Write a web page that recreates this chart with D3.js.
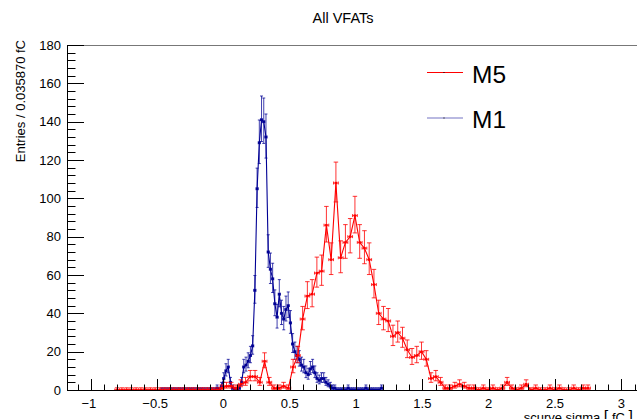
<!DOCTYPE html>
<html>
<head>
<meta charset="utf-8">
<script src="https://cdn.jsdelivr.net/npm/d3@7"></script>
<style>
  html, body { margin: 0; padding: 0; background: #fff; }
  svg { display: block; }
  text { font-family: "Liberation Sans", Arial, Helvetica, sans-serif; }
</style>
</head>
<body>
<svg id="chart" width="637" height="419"></svg>
<script>
// ---- data ----
const chartTitle = "All VFATs";
const yAxisTitle = "Entries / 0.035870 fC";
const xAxisTitle = "scurve sigma";
const xTickValues = [-1, -0.5, 0, 0.5, 1, 1.5, 2, 2.5, 3];
const xTickLabels = ["\u22121", "\u22120.5", "0", "0.5", "1", "1.5", "2", "2.5", "3"];
const yTickValues = [0, 20, 40, 60, 80, 100, 120, 140, 160, 180];
const seriesNames = ["M5", "M1"];

// M5 histogram: first bin low edge and bin width (fC)
const m5BinStart = -0.82;
const m5BinWidth = 0.03587;
const m5Counts = [
  0,0,0,0,0,0,0,0,0,0,
  0,0,0,0,0,0,0,0,0,0,
  0,0,1,2,2,1,3,4,7,7,
  4,15,4,1,1,2,1,12,18,37,
  49,50,61,62,86,68,108,69,77,80,
  91,77,74,68,55,40,37,36,28,30,
  27,21,17,18,20,16,6,7,4,1,
  1,2,3,2,1,1,0,1,0,1,
  0,1,4,1,0,1,3,0,1,0,
  0,1,0,1,0,0,1,0,1,1
];

// M1 histogram
const m1BinStart = -0.475;
const m1BinWidth = 0.01675;
const m1Counts = [
  0,0,0,0,0,0,0,0,0,0,
  0,0,0,0,0,0,0,0,0,0,
  0,0,0,0,0,1,0,2,6,10,
  12,4,1,0,0,1,4,12,13,15,
  18,23,52,105,129,141,140,132,72,63,
  58,45,38,50,40,37,42,44,35,24,
  20,18,16,13,12,9,8,11,12,9,
  6,5,6,6,4,3,2,1,1,0,
  0,0,0,0,1,0,0,0,0,0,
  0,0,1,0,0,0,0,0,0,1
];

// ---- layout ----
const svg = d3.select("#chart");
const plotLeft = 67, plotTop = 45, plotBottom = 390;
const x = d3.scaleLinear().domain([-1.18, 3.3]).range([plotLeft, plotLeft + 4.48 * 132.6]);
const y = d3.scaleLinear().domain([0, 180]).range([plotBottom, plotTop]);

function interval(n) {
  if (n <= 0) return [0, 1.15];
  const s = Math.sqrt(n + 0.25);
  return [Math.max(0, n + 0.5 - s), n + 0.5 + s];
}

function buildBins(start, width, counts) {
  return counts.map((c, i) => {
    const lo = start + i * width;
    const [el, eh] = interval(c);
    return { x0: lo, x1: lo + width, xc: lo + width / 2, n: c, el, eh };
  });
}

const m5 = buildBins(m5BinStart, m5BinWidth, m5Counts);
const m1 = buildBins(m1BinStart, m1BinWidth, m1Counts);

const clipId = "plotclip";
svg.append("clipPath").attr("id", clipId)
  .append("rect").attr("x", plotLeft).attr("y", plotTop - 2).attr("width", 637 - plotLeft).attr("height", plotBottom - plotTop + 3);

svg.append("line").attr("x1", plotLeft).attr("x2", 637).attr("y1", plotTop + 0.5).attr("y2", plotTop + 0.5)
  .attr("stroke", "#777").attr("stroke-width", 1.2);

function drawSeries(bins, color, capW, opacityBars) {
  const g = svg.append("g").attr("clip-path", `url(#${clipId})`);
  const line = d3.line().x(d => x(d.xc)).y(d => y(d.n));
  g.append("path").datum(bins).attr("d", line)
    .attr("fill", "none").attr("stroke", color).attr("stroke-width", 1.1);
  const pts = g.selectAll("g.pt").data(bins).join("g").attr("class", "pt")
    .attr("stroke", color).attr("stroke-width", 1).attr("stroke-opacity", opacityBars);
  pts.append("line")
    .attr("x1", d => x(d.xc)).attr("x2", d => x(d.xc))
    .attr("y1", d => y(d.el)).attr("y2", d => y(d.eh));
  pts.append("line")
    .attr("x1", d => x(d.xc) - capW / 2).attr("x2", d => x(d.xc) + capW / 2)
    .attr("y1", d => y(d.eh)).attr("y2", d => y(d.eh));
  pts.append("line")
    .attr("x1", d => x(d.xc) - capW / 2).attr("x2", d => x(d.xc) + capW / 2)
    .attr("y1", d => y(d.el)).attr("y2", d => y(d.el));
  pts.append("line")
    .attr("x1", d => x(d.x0)).attr("x2", d => x(d.x1))
    .attr("y1", d => y(d.n)).attr("y2", d => y(d.n));
  pts.append("line")
    .attr("x1", d => x(d.x0)).attr("x2", d => x(d.x0))
    .attr("y1", d => y(d.n) - 1.5).attr("y2", d => y(d.n) + 1.5);
  pts.append("line")
    .attr("x1", d => x(d.x1)).attr("x2", d => x(d.x1))
    .attr("y1", d => y(d.n) - 1.5).attr("y2", d => y(d.n) + 1.5);
  g.selectAll("rect.mk").data(bins).join("rect").attr("class", "mk")
    .attr("x", d => x(d.xc) - 1.2).attr("y", d => y(d.n) - 1.2)
    .attr("width", 2.4).attr("height", 2.4).attr("fill", color);
}

drawSeries(m1, "#000094", 3, 0.75);
drawSeries(m5, "#ff0000", 4.5, 0.8);

const axisG = svg.append("g");
axisG.append("line").attr("x1", plotLeft + 0.5).attr("x2", plotLeft + 0.5).attr("y1", plotTop).attr("y2", plotBottom)
  .attr("stroke", "#000").attr("stroke-width", 1);
const yMinor = d3.range(0, 181, 4);
axisG.selectAll("line.ymin").data(yMinor).join("line").attr("class", "ymin")
  .attr("x1", plotLeft).attr("x2", d => plotLeft + (d % 20 === 0 ? 17 : 8.5))
  .attr("y1", d => Math.round(y(d)) + 0.5).attr("y2", d => Math.round(y(d)) + 0.5)
  .attr("stroke", "#000").attr("stroke-width", 1);
axisG.selectAll("text.ylab").data(yTickValues).join("text").attr("class", "ylab")
  .attr("x", 61).attr("y", d => y(d) + 4.6).attr("text-anchor", "end")
  .attr("font-size", 13).text(d => d);

axisG.append("line").attr("x1", plotLeft).attr("x2", 637).attr("y1", plotBottom + 0.5).attr("y2", plotBottom + 0.5)
  .attr("stroke", "#000").attr("stroke-width", 1.2);
const xMinor = d3.range(-11, 33).map(k => k / 10);
axisG.selectAll("line.xmin").data(xMinor).join("line").attr("class", "xmin")
  .attr("x1", d => Math.round(x(d)) + 0.5).attr("x2", d => Math.round(x(d)) + 0.5)
  .attr("y1", plotBottom).attr("y2", d => plotBottom - (Math.abs(d * 2 - Math.round(d * 2)) < 1e-6 ? 11 : 5.5))
  .attr("stroke", "#000").attr("stroke-width", 1);
axisG.selectAll("text.xlab").data(xTickValues).join("text").attr("class", "xlab")
  .attr("x", d => x(d) - (d < 0 ? 2 : 0)).attr("y", 408).attr("text-anchor", "middle")
  .attr("font-size", 13).text((d, i) => xTickLabels[i]);

svg.append("text").attr("transform", "translate(25,40) rotate(-90)")
  .attr("text-anchor", "end").attr("font-size", 13).text(yAxisTitle);

const xt = svg.append("text").attr("x", 633).attr("y", 422).attr("text-anchor", "end").attr("font-size", 13);
xt.append("tspan").text(xAxisTitle + " ");
xt.append("tspan").attr("font-size", 16).text("[");
xt.append("tspan").text(" fC ");
xt.append("tspan").attr("font-size", 16).text("]");

svg.append("text").attr("x", 343).attr("y", 23).attr("text-anchor", "middle")
  .attr("font-size", 14.5).text(chartTitle);

const legendColors = ["#ff0000", "#000094"];
const legendY = [72.5, 118];
seriesNames.forEach((name, i) => {
  svg.append("line").attr("x1", 427).attr("x2", 463).attr("y1", legendY[i]).attr("y2", legendY[i])
    .attr("stroke", legendColors[i]).attr("stroke-width", 1).attr("stroke-opacity", i === 1 ? 0.55 : 1);
  svg.append("rect").attr("x", 443.5).attr("y", legendY[i] - 0.5).attr("width", 1).attr("height", 1).attr("fill", "#000");
  svg.append("text").attr("x", 472).attr("y", legendY[i] + 10.2).attr("font-size", 24.5).text(name);
});
</script>
</body>
</html>
